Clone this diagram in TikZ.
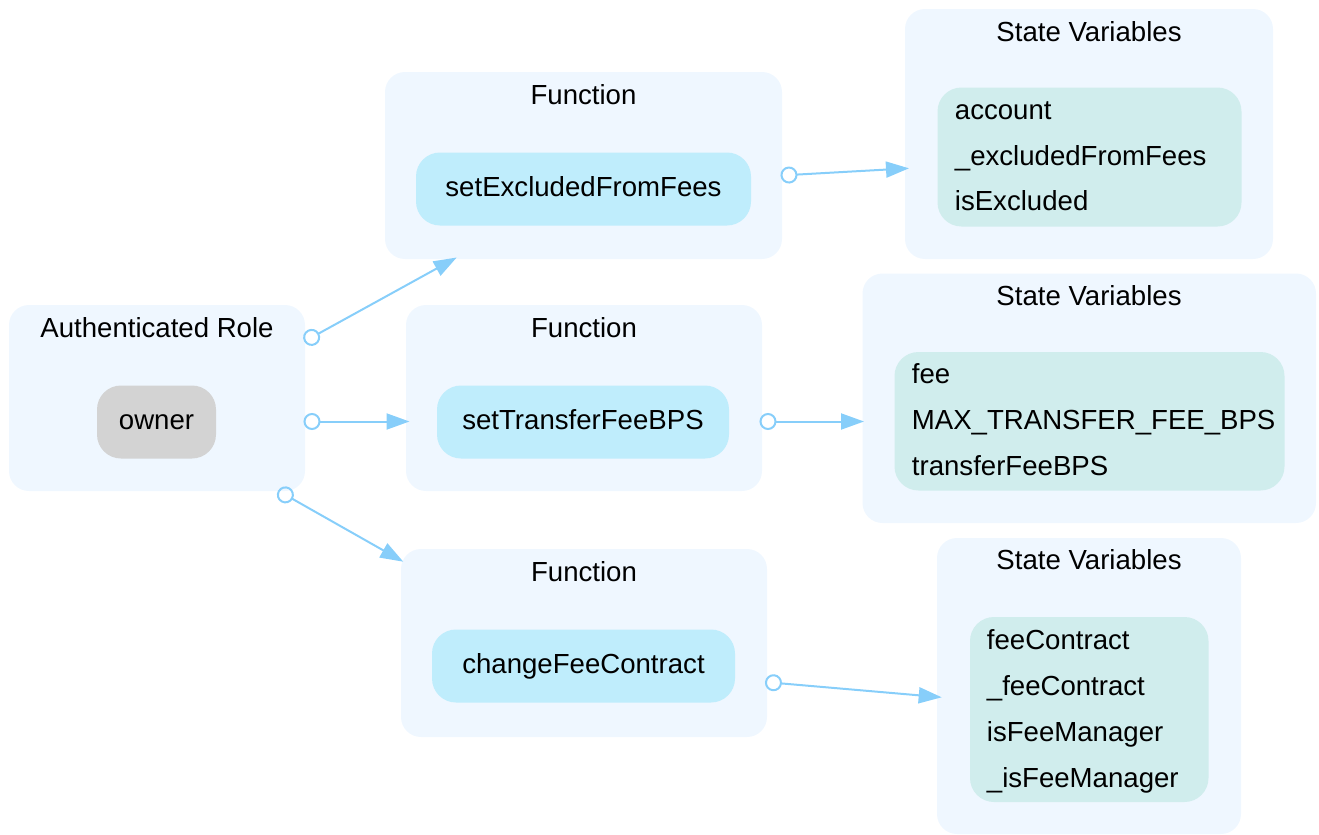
\documentclass[tikz,border=0pt]{standalone}
\usepackage{fontspec}
\setmainfont{Liberation Sans}
\usetikzlibrary{arrows.meta,fit}
\definecolor{clusterbg}{RGB}{239,247,255}
\definecolor{fnfill}{RGB}{191,237,252}
\definecolor{svfill}{RGB}{208,237,237}
\definecolor{rolefill}{RGB}{211,211,211}
\definecolor{edgeblue}{RGB}{135,206,250}
\newcommand{\lbfont}{\fontsize{13.8pt}{16pt}\selectfont}
\begin{document}
\begin{tikzpicture}[x=0.5pt,y=-0.5pt,
  cluster/.style={fill=clusterbg, draw=none, rounded corners=10pt, inner sep=0pt},
  fnbox/.style={fill=fnfill, draw=none, rounded corners=12pt, inner sep=0pt, minimum height=36.5pt, font=\lbfont, text height=10pt, text depth=3pt},
  rolebox/.style={fill=rolefill, draw=none, rounded corners=12pt, inner sep=0pt, minimum height=36.5pt, font=\lbfont, text height=10pt, text depth=3pt},
  svbox/.style={fill=svfill, draw=none, rounded corners=12pt, inner sep=0pt},
  title/.style={inner sep=0pt, anchor=base, font=\lbfont},
  svtext/.style={inner sep=0pt, anchor=base west, font=\lbfont},
  conn/.style={draw=edgeblue, line width=1pt, {Circle[open,length=8.5pt,width=8.5pt]}-{Triangle[length=11.5pt,width=8pt]}}
]
\useasboundingbox (0,0) rectangle (1319,835);

% clusters
\node[cluster, fit={(9,305) (305,491)}] (authC) {};
\node[cluster, fit={(385,72) (782,259)}] (f1C) {};
\node[cluster, fit={(406,305) (762,491)}] (f2C) {};
\node[cluster, fit={(401,549) (767,737)}] (f3C) {};
\node[cluster, fit={(905,9) (1273,259)}] (sv1C) {};
\node[cluster, fit={(862.5,273.5) (1316,523)}] (sv2C) {};
\node[cluster, fit={(937,538) (1241,834)}] (sv3C) {};

% titles
\node[title] (authT) at (157,337.5) {Authenticated Role};
\node[title] (f1T) at (583.5,104.5) {Function};
\node[title] (f2T) at (584,337.5) {Function};
\node[title] (f3T) at (584,581) {Function};
\node[title] (sv1T) at (1089,41) {State Variables};
\node[title] (sv2T) at (1089,305) {State Variables};
\node[title] (sv3T) at (1089,569.5) {State Variables};

% inner nodes
\node[rolebox, minimum width=59.5pt] (owner) at (156.5,422) {owner};
\node[fnbox, minimum width=167.5pt] (f1) at (583.5,189) {setExcludedFromFees};
\node[fnbox, minimum width=146pt] (f2) at (583,422) {setTransferFeeBPS};
\node[fnbox, minimum width=151.5pt] (f3) at (583.5,666) {changeFeeContract};

\node[svbox, fit={(937.5,87.5) (1241.5,226.5)}] (sv1) {};
\node[svtext] (sv1a) at (954.5,119.5) {account};
\node[svtext] (sv1b) at (954.5,165) {\_excludedFromFees};
\node[svtext] (sv1c) at (954.5,210) {isExcluded};

\node[svbox, fit={(894.5,352) (1284.5,490.5)}] (sv2) {};
\node[svtext] (sv2a) at (911.5,383.5) {fee};
\node[svtext] (sv2b) at (911.5,429.5) {MAX\_TRANSFER\_FEE\_BPS};
\node[svtext] (sv2c) at (911.5,475) {transferFeeBPS};

\node[svbox, fit={(970,617) (1208.5,802)}] (sv3) {};
\node[svtext] (sv3a) at (986.5,649.5) {feeContract};
\node[svtext] (sv3b) at (986.5,695.5) {\_feeContract};
\node[svtext] (sv3c) at (986.5,741.5) {isFeeManager};
\node[svtext] (sv3d) at (986.5,787) {\_isFeeManager};

% connector end points
\coordinate (e1s) at (304.2,341.5);
\coordinate (e1t) at (456.7,257.5);
\coordinate (e2s) at (303.5,421.5);
\coordinate (e2t) at (409.5,421.5);
\coordinate (e3s) at (278,490.7);
\coordinate (e3t) at (403.3,561.7);
\coordinate (e4s) at (780.5,175.5);
\coordinate (e4t) at (909,168.3);
\coordinate (e5s) at (759.5,421.5);
\coordinate (e5t) at (864,421.5);
\coordinate (e6s) at (765,682);
\coordinate (e6t) at (941.7,697.3);

\draw[conn] (e1s) -- (e1t);
\draw[conn] (e2s) -- (e2t);
\draw[conn] (e3s) -- (e3t);
\draw[conn] (e4s) -- (e4t);
\draw[conn] (e5s) -- (e5t);
\draw[conn] (e6s) -- (e6t);
\end{tikzpicture}
\end{document}
